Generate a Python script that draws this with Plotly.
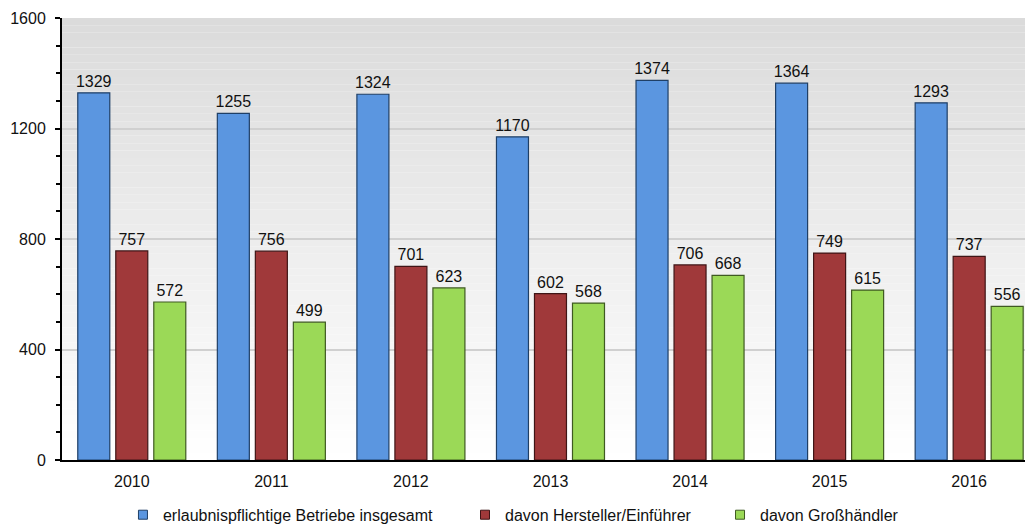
import plotly.graph_objects as go

years = ["2010", "2011", "2012", "2013", "2014", "2015", "2016"]
insgesamt = [1329, 1255, 1324, 1170, 1374, 1364, 1293]
hersteller = [757, 756, 701, 602, 706, 749, 737]
grosshaendler = [572, 499, 623, 568, 668, 615, 556]

series = [
    ("erlaubnispflichtige Betriebe insgesamt", insgesamt, "#5b96e0", "#1f3f66"),
    ("davon Hersteller/Einführer", hersteller, "#a0393a", "#3f1516"),
    ("davon Großhändler", grosshaendler, "#9bd957", "#3f5a22"),
]

FONT = "Liberation Sans, Arial"
legend_ids = ["legend", "legend2", "legend3"]
legend_x = [0.0633, 0.4185, 0.6833]

fig = go.Figure()
for name, vals, color, edge in series:
    fig.add_trace(go.Bar(
        x=years, y=vals, name=name, showlegend=False,
        marker=dict(color=color, line=dict(color=edge, width=1.2)),
        text=[str(v) for v in vals], textposition="outside",
        constraintext="none",
        textfont=dict(family=FONT, size=16, color="#111"),
        cliponaxis=False,
    ))

# small square swatches, one legend box per series
for (name, vals, color, edge), lid in zip(series, legend_ids):
    fig.add_trace(go.Scatter(
        x=[None], y=[None], mode="markers", name=name, legend=lid,
        marker=dict(symbol="square", size=9, color=color, line=dict(color=edge, width=1)),
    ))

# vertical grey-to-white background inside the plot area
shapes = []
n = 60
for i in range(n):
    t = i / (n - 1)
    g = int(round(255 - (255 - 219) * t))
    shapes.append(dict(
        type="rect", xref="x domain", yref="y domain",
        x0=0, x1=1, y0=i / n, y1=(i + 1) / n,
        fillcolor=f"rgb({g},{g},{g})", line=dict(width=0), layer="below",
    ))

legend_style = dict(orientation="h", xanchor="left", y=-0.124, yanchor="middle",
                    font=dict(family=FONT, size=16, color="#111"),
                    itemwidth=30, bgcolor="rgba(0,0,0,0)", borderwidth=0)

fig.update_layout(
    width=1025, height=524,
    margin=dict(l=62, r=0, t=18, b=64, autoexpand=False),
    paper_bgcolor="white", plot_bgcolor="rgba(0,0,0,0)",
    barmode="group", bargap=0.183, bargroupgap=0.158,
    shapes=shapes,
    font=dict(family=FONT, size=16, color="#111"),
    showlegend=True,
    xaxis=dict(
        range=[-0.5, 6.4], showline=True, linecolor="black", linewidth=2,
        ticks="", tickfont=dict(size=16), showgrid=False, ticklabelstandoff=6,
    ),
    yaxis=dict(
        range=[0, 1600], tickvals=[0, 400, 800, 1200, 1600],
        showline=True, linecolor="black", linewidth=2,
        ticks="outside", ticklen=5, tickwidth=2, tickcolor="black",
        gridcolor="rgb(208,208,208)", gridwidth=1.5, zeroline=False,
        tickfont=dict(size=16), ticklabelstandoff=6,
        minor=dict(dtick=100, ticks="outside", ticklen=4, tickwidth=2,
                   tickcolor="black", showgrid=False),
    ),
)
for lid, lx in zip(legend_ids, legend_x):
    fig.update_layout({lid: dict(legend_style, x=lx)})

fig.write_html("out.html")
